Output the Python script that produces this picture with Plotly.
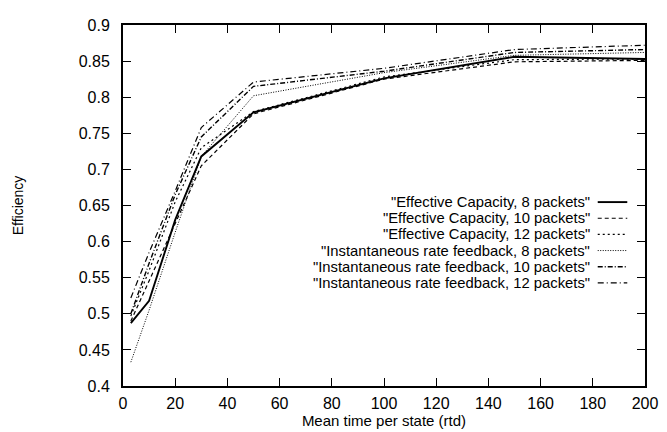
import plotly.graph_objects as go

# ---- data ----
mean_time = [3, 10, 20, 30, 50, 100, 150, 200]

series_names = [
    '"Effective Capacity, 8 packets"',
    '"Effective Capacity, 10 packets"',
    '"Effective Capacity, 12 packets"',
    '"Instantaneous rate feedback, 8 packets"',
    '"Instantaneous rate feedback, 10 packets"',
    '"Instantaneous rate feedback, 12 packets"',
]

eff_cap_8 = [0.487, 0.518, 0.630, 0.718, 0.779, 0.826, 0.856, 0.853]
eff_cap_10 = [0.490, 0.545, 0.625, 0.705, 0.777, 0.825, 0.849, 0.851]
eff_cap_12 = [0.497, 0.560, 0.655, 0.730, 0.780, 0.828, 0.852, 0.853]
inst_fb_8 = [0.433, 0.505, 0.613, 0.718, 0.802, 0.834, 0.858, 0.862]
inst_fb_10 = [0.500, 0.570, 0.665, 0.745, 0.815, 0.836, 0.862, 0.866]
inst_fb_12 = [0.522, 0.585, 0.670, 0.758, 0.821, 0.840, 0.866, 0.872]

x_ticks = [0, 20, 40, 60, 80, 100, 120, 140, 160, 180, 200]
y_ticks = [0.4, 0.45, 0.5, 0.55, 0.6, 0.65, 0.7, 0.75, 0.8, 0.85, 0.9]
y_tick_labels = ["0.4", "0.45", "0.5", "0.55", "0.6", "0.65", "0.7", "0.75", "0.8", "0.85", "0.9"]
x_title = "Mean time per state (rtd)"
y_title = "Efficiency"

all_series = [eff_cap_8, eff_cap_10, eff_cap_12, inst_fb_8, inst_fb_10, inst_fb_12]

# ---- styles ----
dashes = ["solid", "4px,3px", "2px,3px", "1px,1.5px", "5px,2px,1px,2px", "6px,3px,1px,3px"]
widths = [1.9, 1.2, 1.2, 1.0, 1.4, 1.2]

# The page body has an 8px default margin, so the figure is sized to fit the window.
PAGE_OFFSET = 8
W, H = 667 - PAGE_OFFSET, 432 - PAGE_OFFSET
# desired plot box in window pixels: x 122..652, y 17..388
ML = 122 - PAGE_OFFSET
MR = W - (652 - PAGE_OFFSET)
MT = 17 - PAGE_OFFSET
MB = H - (388 - PAGE_OFFSET)
plot_w = W - ML - MR
plot_h = H - MT - MB
font_family = "Liberation Sans, Arial, Helvetica, sans-serif"

fig = go.Figure()
for name, vals, d, w in zip(series_names, all_series, dashes, widths):
    fig.add_trace(go.Scatter(
        x=mean_time, y=vals, mode="lines", name=name,
        line=dict(color="black", dash=d, width=w),
        showlegend=False,
    ))

# gnuplot-style key: right-aligned text with sample line to the right
# (positions given relative to the plot box, in pixels)
text_right_rel = 597 - 122
sample_x0_rel, sample_x1_rel = 604 - 122, 634 - 122
first_row_rel, row_step = 199 - 17, 16.6
for i, (name, d, w) in enumerate(zip(series_names, dashes, widths)):
    yrel = first_row_rel + i * row_step
    yp = 1 - yrel / plot_h
    fig.add_annotation(
        x=text_right_rel / plot_w, y=yp, xref="paper", yref="paper",
        text=name, showarrow=False, xanchor="right", yanchor="middle",
        font=dict(size=14.8, color="black", family=font_family),
        borderpad=0,
    )
    fig.add_shape(
        type="line", xref="paper", yref="paper",
        x0=sample_x0_rel / plot_w, x1=sample_x1_rel / plot_w,
        y0=yp, y1=yp, line=dict(color="black", dash=d, width=w),
    )

axis_common = dict(
    showgrid=False, zeroline=False, showline=True, linecolor="black", linewidth=2,
    mirror="allticks", ticks="inside", ticklen=8, tickwidth=1.2, tickcolor="black",
)

fig.update_xaxes(
    range=[0, 200], tickvals=x_ticks, ticklabelstandoff=2,
    tickfont=dict(size=16, color="black", family=font_family),
    title=dict(text=x_title, standoff=0,
               font=dict(size=15, color="black", family=font_family)),
    **axis_common,
)
fig.update_yaxes(
    range=[0.4, 0.9], tickvals=y_ticks, ticktext=y_tick_labels, ticklabelstandoff=8,
    tickfont=dict(size=16, color="black", family=font_family),
    title=dict(text=y_title, standoff=52,
               font=dict(size=14, color="black", family=font_family)),
    **axis_common,
)

fig.update_layout(
    width=W, height=H,
    margin=dict(l=ML, r=MR, t=MT, b=MB),
    paper_bgcolor="white", plot_bgcolor="white",
    font=dict(family=font_family, color="black"),
)

fig.write_html("out.html")
